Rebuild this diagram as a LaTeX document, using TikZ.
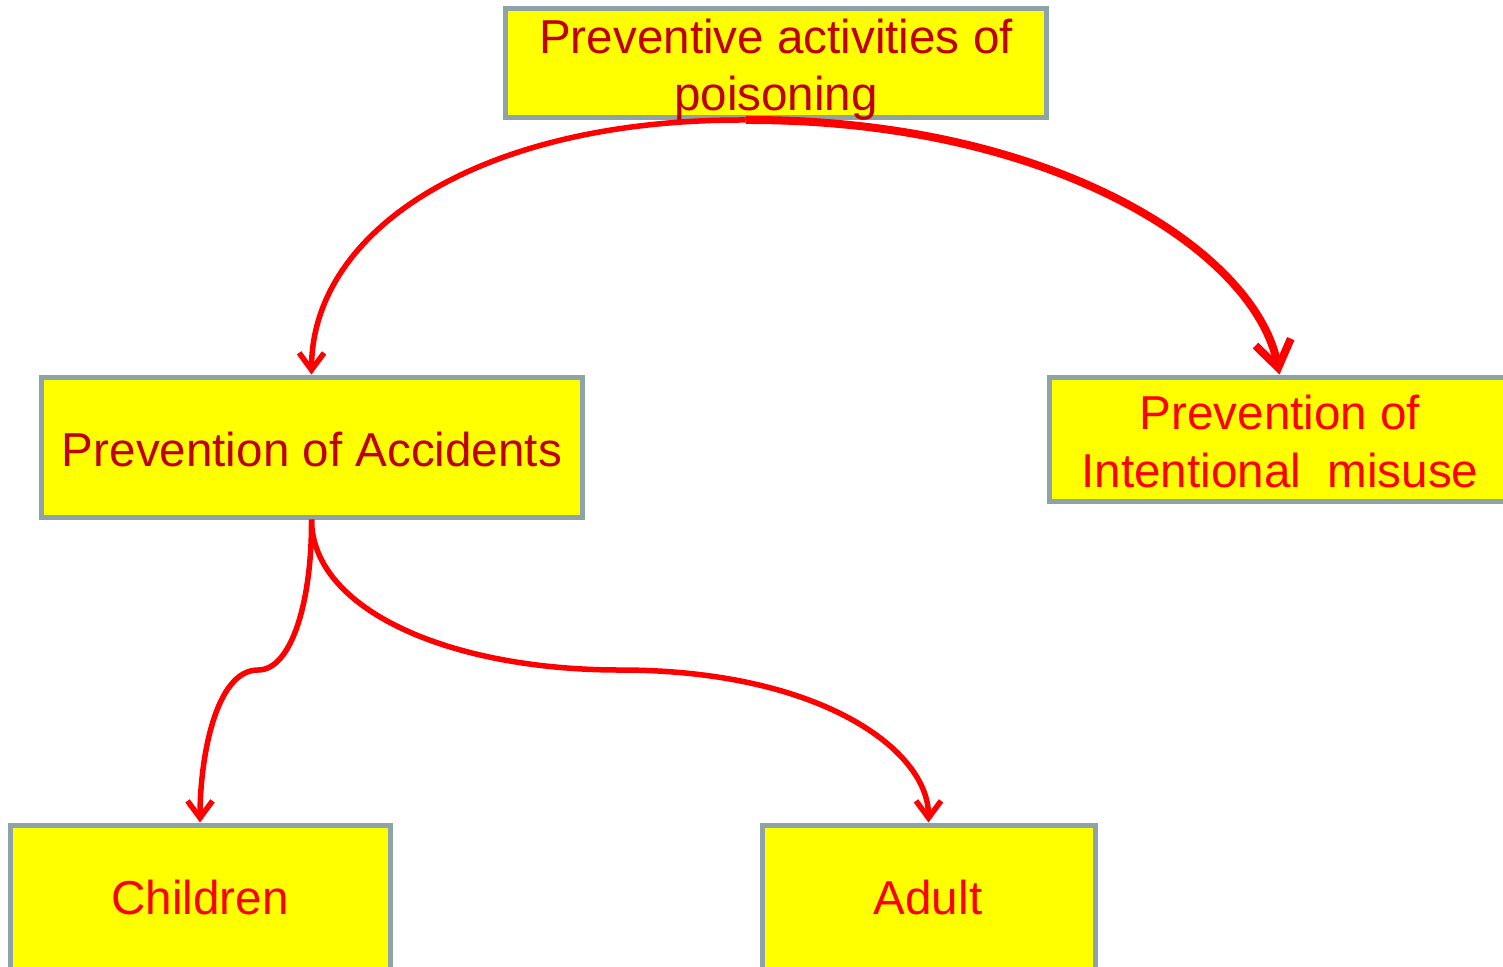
\documentclass[tikz,border=0pt]{standalone}
\usepackage{fontspec}
\setmainfont{Liberation Sans}
\usetikzlibrary{arrows.meta}
\definecolor{boxfill}{HTML}{FFFF00}
\definecolor{boxline}{HTML}{8EA3A8}
\definecolor{darktxt}{HTML}{C00000}
\definecolor{brighttxt}{HTML}{FF0000}
\definecolor{arrowred}{HTML}{FF0000}
\tikzset{
  box/.style={draw=boxline, fill=boxfill, line width=5pt, inner sep=0pt},
  txt/.style={anchor=base, inner sep=0pt, font=\fontsize{47.6}{58}\selectfont},
  thinarrow/.style={draw=arrowred, line width=5.5pt, -{Straight Barb[length=17pt, width=25pt, line width=5.5pt]}},
  thickarrow/.style={draw=arrowred, line width=8pt, -{Straight Barb[length=26pt, width=36pt, line width=8pt]}}
}
\begin{document}
\begin{tikzpicture}[x=1pt,y=-1pt]
\useasboundingbox (0,0) rectangle (1503,966);
\clip (0,0) rectangle (1503,966);
% boxes
\node[box, minimum width=541pt, minimum height=109pt] (top) at (775.5,63) {};
\node[box, minimum width=541pt, minimum height=140pt] (acc) at (311.5,447) {};
\node[box, minimum width=461pt, minimum height=124pt] (int) at (1279.5,439) {};
\node[box, minimum width=380pt, minimum height=150pt] (child) at (200,900) {};
\node[box, minimum width=333pt, minimum height=150pt] (adult) at (928.5,900) {};
% connectors
\coordinate (src) at ([xshift=-30pt]top.south);
\draw[thinarrow] (src) .. controls (480,119) and (312,230) .. (acc.north);
\draw[thickarrow] (src) .. controls (1050,119) and (1255,250) .. (int.north);
\coordinate (kink) at (258,670);
\draw[thinarrow] (acc.south) .. controls (312,600) and (292,670) .. (kink)
   .. controls (215,670) and (200,760) .. (child.north);
\coordinate (mid) at (620,670);
\draw[thinarrow] (acc.south) .. controls (312,610) and (450,670) .. (mid)
   .. controls (820,670) and (928.5,750) .. (adult.north);
% texts
\node[txt, text=darktxt] (t1) at (776,53) {Preventive activities of};
\node[txt, text=darktxt] (t2) at (776,110) {poisoning};
\node[txt, text=darktxt] (t3) at (312,466) {Prevention of Accidents};
\node[txt, text=brighttxt] (t4) at (1280,429) {Prevention of};
\node[txt, text=brighttxt] (t5) at (1280,487) {Intentional\ \ misuse};
\node[txt, text=brighttxt] (t6) at (200,914) {Children};
\node[txt, text=brighttxt] (t7) at (928,914) {Adult};
\end{tikzpicture}
\end{document}
